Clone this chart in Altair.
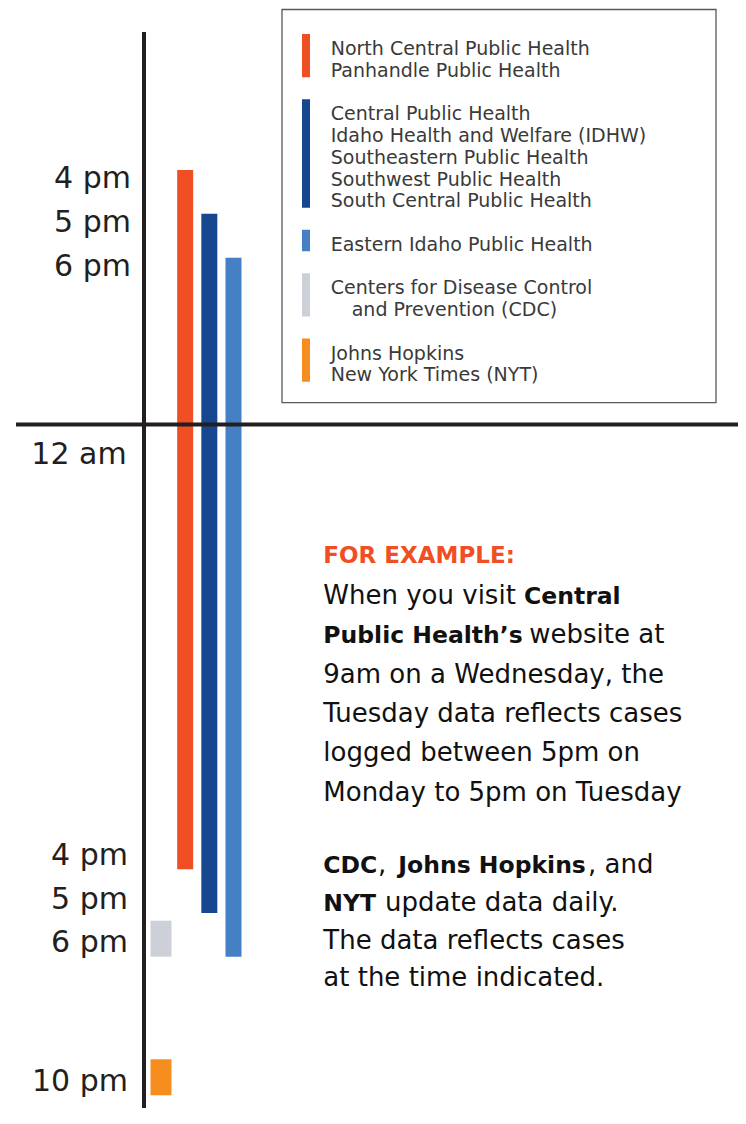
import altair as alt
import pandas as pd

# ---------------- data ----------------
groups = [
    "North Central / Panhandle",
    "Central / IDHW / Southeastern / Southwest / South Central",
    "Eastern Idaho",
    "CDC",
    "Johns Hopkins / NYT",
]
colors = ["#F04E23", "#17478E", "#4580C4", "#CDD0D8", "#F68E1F"]

# reporting windows (hours; 16 = 4 pm day 1, 40 = 4 pm next day)
window_group = groups[:3]
window_lane = [1, 2, 3]
window_start = [16, 17, 18]
window_end = [40, 41, 42]

# point-in-time snapshots
snap_group = groups[3:]
snap_lane = [0, 0]
snap_time = [42, 46]

top_hours = [16, 17, 18]
top_labels = ["4 pm", "5 pm", "6 pm"]
mid_hours = [24]
mid_labels = ["12 am"]
bottom_hours = [40, 41, 42, 46]
bottom_labels = ["4 pm", "5 pm", "6 pm", "10 pm"]

legend_lines = [
    ["North Central Public Health", "Panhandle Public Health"],
    ["Central Public Health", "Idaho Health and Welfare (IDHW)",
     "Southeastern Public Health", "Southwest Public Health",
     "South Central Public Health"],
    ["Eastern Idaho Public Health"],
    ["Centers for Disease Control", "and Prevention (CDC)"],
    ["Johns Hopkins", "New York Times (NYT)"],
]

# ---------------- layout ----------------
OFF = 8
def P(v):
    return v - OFF

FONT = "DejaVu Sans"
INK = "#231F20"
W, H = 730, 1100

y_scale = alt.Scale(domain=[16, 18, 40, 42, 46],
                    range=[P(170), P(257.7), P(869.3), P(956.7), P(1095.3)],
                    zero=False, nice=False)
x_scale = alt.Scale(domain=[0, 3], range=[P(161), P(233.5)], zero=False, nice=False)
color = alt.Color("group:N", scale=alt.Scale(domain=groups, range=colors), legend=None)

one = pd.DataFrame({"d": [0]})

box = alt.Chart(one).mark_rect(filled=False, stroke="#58595B", strokeWidth=1.3).encode(
    x=alt.value(P(282)), x2=alt.value(P(716)), y=alt.value(P(9.5)), y2=alt.value(P(402.7)))

vaxis = alt.Chart(one).mark_rule(color=INK, strokeWidth=4).encode(
    x=alt.value(P(144)), y=alt.value(P(32)), y2=alt.value(H))

windows = pd.DataFrame({"group": window_group, "lane": window_lane,
                        "start": window_start, "end": window_end})
bars = alt.Chart(windows).mark_rule(strokeWidth=16, strokeCap="butt").encode(
    x=alt.X("lane:Q", scale=x_scale, axis=None),
    y=alt.Y("start:Q", scale=y_scale, axis=None),
    y2="end:Q", color=color)

snaps = pd.DataFrame({"group": snap_group, "lane": snap_lane, "time": snap_time})
blocks = alt.Chart(snaps).mark_rule(strokeWidth=21, strokeCap="butt", y2Offset=-36).encode(
    x=alt.X("lane:Q", scale=x_scale, axis=None),
    y=alt.Y("time:Q", scale=y_scale, axis=None),
    y2=alt.Y2("time:Q"), color=color)

mid = pd.DataFrame({"hour": mid_hours, "label": mid_labels})
hline = alt.Chart(mid).mark_rule(color=INK, strokeWidth=4).encode(
    y=alt.Y("hour:Q", scale=y_scale, axis=None), x=alt.value(P(16)), x2=alt.value(P(740)))

def time_labels(hours, labels, xr, dy):
    df = pd.DataFrame({"hour": hours, "label": labels})
    return alt.Chart(df).mark_text(align="right", baseline="alphabetic", dy=dy,
                                   font=FONT, fontSize=30, color=INK).encode(
        x=alt.value(P(xr)), y=alt.Y("hour:Q", scale=y_scale, axis=None), text="label:N")

lab_top = time_labels(top_hours, top_labels, 131, 18)
lab_mid = time_labels(mid_hours, mid_labels, 126.7, 39)
lab_bot = time_labels(bottom_hours, bottom_labels, 128, -4.5)

# legend
rows, sws = [], []
slot = 0
for gi, (g, lines) in enumerate(zip(groups, legend_lines)):
    first = slot
    for li, t in enumerate(lines):
        indent = 21 if (gi == 3 and li == 1) else 0
        rows.append({"text": t, "x": P(330.7 + indent), "y": P(55 + 21.75 * slot)})
        slot += 1
    sws.append({"group": g, "y": P(55 + 21.75 * first - 21),
                "y2": P(55 + 21.75 * (slot - 1) + 0.5)})
    slot += 1
leg_text = alt.Chart(pd.DataFrame(rows)).mark_text(
    align="left", baseline="alphabetic", font=FONT, fontSize=19, color="#3A3A3A").encode(
    x=alt.X("x:Q", scale=None), y=alt.Y("y:Q", scale=None), text="text:N")
leg_sw = alt.Chart(pd.DataFrame(sws)).mark_rule(strokeWidth=8, strokeCap="butt").encode(
    x=alt.value(P(306)), y=alt.Y("y:Q", scale=None), y2="y2:Q", color=color)

# annotation
L = [604, 643.3, 682.6, 721.9, 761.2, 800.5]
M = [872.7, 910.5, 948.5, 986]
normal_seg = [
    ("When you visit", 323.3, L[0]),
    ("website at", 529.3, L[1]),
    ("9am on a Wednesday, the", 323.3, L[2]),
    ("Tuesday data reflects cases", 323.3, L[3]),
    ("logged between 5pm on", 323.3, L[4]),
    ("Monday to 5pm on Tuesday", 323.3, L[5]),
    (",", 378, M[0]),
    (", and", 588, M[0]),
    ("update data daily.", 385, M[1]),
    ("The data reflects cases", 323.3, M[2]),
    ("at the time indicated.", 323.3, M[3]),
]
bold_seg = [
    ("Central", 524, L[0]),
    ("Public Health\u2019s", 323.3, L[1]),
    ("CDC", 323.3, M[0]),
    ("Johns Hopkins", 398.3, M[0]),
    ("NYT", 323.3, M[1]),
]
def seg_df(seg):
    return pd.DataFrame({"text": [s[0] for s in seg], "x": [P(s[1]) for s in seg],
                         "y": [P(s[2]) for s in seg]})

body = alt.Chart(seg_df(normal_seg)).mark_text(
    align="left", baseline="alphabetic", font=FONT, fontSize=26, color="#111111").encode(
    x=alt.X("x:Q", scale=None), y=alt.Y("y:Q", scale=None), text="text:N")
bold = alt.Chart(seg_df(bold_seg)).mark_text(
    align="left", baseline="alphabetic", font=FONT, fontSize=23.5, fontWeight="bold",
    color="#111111").encode(
    x=alt.X("x:Q", scale=None), y=alt.Y("y:Q", scale=None), text="text:N")
head = alt.Chart(one).mark_text(
    align="left", baseline="alphabetic", font=FONT, fontSize=23, fontWeight="bold",
    color="#F04E23").encode(
    x=alt.value(P(323.3)), y=alt.value(P(563.3)), text=alt.value("FOR EXAMPLE:"))

chart = alt.layer(
    box, vaxis, bars, blocks, hline, lab_top, lab_mid, lab_bot,
    leg_sw, leg_text, head, body, bold
).resolve_scale(x="independent", y="independent").properties(
    width=W, height=H, padding=0, background="white",
    autosize=alt.AutoSizeParams(type="none")
).configure_view(strokeWidth=0)

chart.save("out.html", embed_options={"renderer": "svg", "actions": False})
